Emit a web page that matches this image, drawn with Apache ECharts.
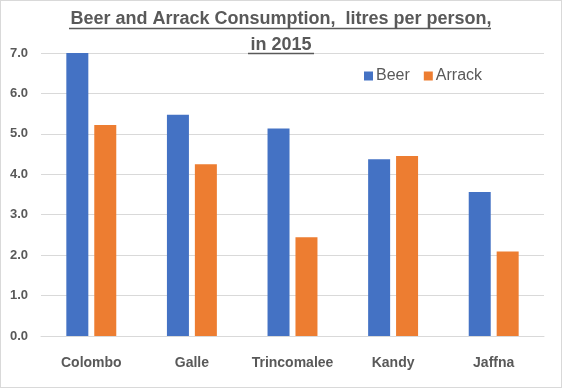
<!DOCTYPE html>
<html><head><meta charset="utf-8">
<script src="https://cdn.jsdelivr.net/npm/echarts@6/dist/echarts.min.js"></script>
<style>html,body{margin:0;padding:0;background:#fff}#c{width:560px;height:386px;border:1px solid #d9d9d9}</style>
</head><body><div id="c"></div>
<script>
const categories = ['Colombo', 'Galle', 'Trincomalee', 'Kandy', 'Jaffna'];
const beer = [7.0, 5.47, 5.13, 4.37, 3.56];
const arrack = [5.22, 4.25, 2.44, 4.45, 2.09];
const yTicks = { min: 0, max: 7, interval: 1 };

const chart = echarts.init(document.getElementById('c'), null, { renderer: 'canvas' });
const txt = '#595959';
chart.setOption({
  animation: false,
  title: {
    text: 'Beer and Arrack Consumption,  litres per person,\nin 2015',
    left: 'center', top: 5, padding: 0,
    textStyle: { fontFamily: 'Liberation Sans', fontSize: 18, fontWeight: 'bold', color: txt, lineHeight: 26 }
  },
  legend: {
    data: ['Beer', 'Arrack'], left: 358, top: 62,
    itemWidth: 9, itemHeight: 9, itemGap: 14, icon: 'rect',
    textStyle: { fontFamily: 'Liberation Sans', fontSize: 16, color: txt, padding: [0, 0, 0, -2] }
  },
  grid: { left: 40, right: 17, top: 52, bottom: 51, containLabel: false },
  xAxis: {
    type: 'category', data: categories,
    axisLine: { lineStyle: { color: '#d9d9d9' } }, axisTick: { show: false },
    axisLabel: { interval: 0, hideOverlap: false, margin: 20, fontFamily: 'Liberation Sans', fontSize: 14, fontWeight: 'bold', color: txt }
  },
  yAxis: {
    type: 'value', min: yTicks.min, max: yTicks.max, interval: yTicks.interval,
    axisLabel: { margin: 13, fontFamily: 'Liberation Sans', fontSize: 13, fontWeight: 'bold', color: txt,
      formatter: v => v.toFixed(1) },
    splitLine: { lineStyle: { color: '#d9d9d9' } }, axisLine: { show: false }, axisTick: { show: false }
  },
  series: [
    { name: 'Beer', type: 'bar', data: beer, barWidth: 22, barGap: '27%', itemStyle: { color: '#4472C4' } },
    { name: 'Arrack', type: 'bar', data: arrack, barWidth: 22, itemStyle: { color: '#ED7D31' } }
  ],
  graphic: [
    { type: 'line', shape: { x1: 68, y1: 27.5, x2: 490, y2: 27.5 }, style: { stroke: txt, lineWidth: 1.5 } },
    { type: 'line', shape: { x1: 247, y1: 52.5, x2: 313, y2: 52.5 }, style: { stroke: txt, lineWidth: 1.5 }, z: 10 }
  ]
});
</script></body></html>
